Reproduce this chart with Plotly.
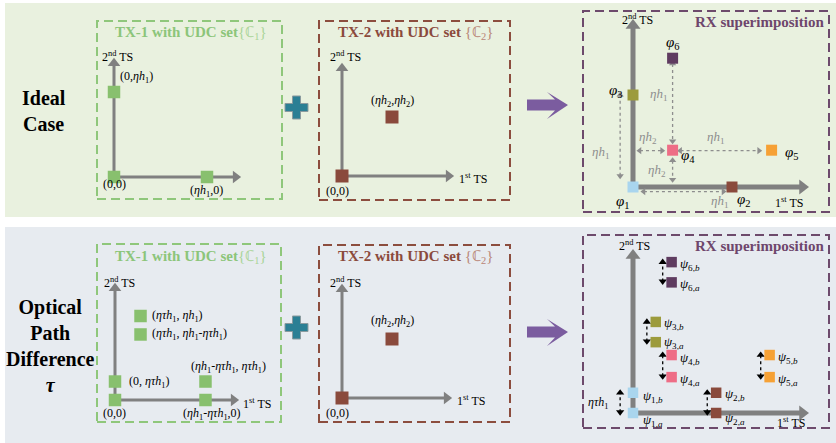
import plotly.graph_objects as go

W, H = 836, 443
SERIF = "Liberation Serif"
AXIS_GRAY = "#808080"
DIM_GRAY = "#8e8e8e"

# ---------------- constellation values (unit = eta*h1) ----------------
ETA_H1 = 1.0
ETA_H2 = 0.4
ETA_TAU_H1 = 0.22

# ideal case: transmitter constellations
tx1_ideal_ts1 = [0.0, ETA_H1, 0.0]
tx1_ideal_ts2 = [0.0, 0.0, ETA_H1]
tx2_ts1 = [0.0, ETA_H2]
tx2_ts2 = [0.0, ETA_H2]

# ideal case: superimposed receiver points phi_1..phi_6
rx_ideal_ts1 = [0.0, 1.0, 0.0, 0.4, 1.4, 0.4]
rx_ideal_ts2 = [0.0, 0.0, 1.0, 0.4, 0.4, 1.4]

# optical path difference: TX-1 constellation
tx1_tau_ts1 = [0.0, 0.0, ETA_TAU_H1, ETA_TAU_H1, ETA_H1 - ETA_TAU_H1, ETA_H1 - ETA_TAU_H1]
tx1_tau_ts2 = [0.0, ETA_TAU_H1, ETA_H1, ETA_H1 - ETA_TAU_H1, ETA_TAU_H1, 0.0]

# optical path difference: receiver pairs psi_{i,a} / psi_{i,b}
rx_tau_ts1 = [0.0, 0.84, 0.23, 0.39, 1.38, 0.39]
rx_tau_ts2_a = [0.0, 0.0, 0.77, 0.39, 0.39, 1.42]
rx_tau_ts2_b = [0.22, 0.22, 0.99, 0.63, 0.63, 1.64]

rx_colors = ["#a9d5ee", "#8a4a3c", "#9c9b3c", "#ee6d86", "#f6a135", "#5f3c60"]
TX1_GREEN = "#88c06e"
TX2_BROWN = "#8a4a3c"

# ---------------- label text ----------------
EH1 = "<i>ηh</i><sub>1</sub>"
EH2 = "<i>ηh</i><sub>2</sub>"
ETH1 = "<i>ητh</i><sub>1</sub>"
TS1 = "1<sup>st</sup> TS"
TS2 = "2<sup>nd</sup> TS"

tx1_ideal_labels = ["(0,0)", f"({EH1},0)", f"(0,{EH1})"]
tx2_labels = ["(0,0)", f"({EH2},{EH2})"]
rx_ideal_labels = [f"<i>φ</i><sub>{i}</sub>" for i in range(1, 7)]
tx1_tau_labels = ["(0,0)", f"(0, {ETH1})", f"({ETH1}, {EH1})",
                  f"({ETH1}, {EH1}-{ETH1})", f"({EH1}-{ETH1}, {ETH1})",
                  f"({EH1}-{ETH1},0)"]

# ---------------- panel geometry (pixels) ----------------
# box: dashed frame, origin: where TS axes meet, scale: px per unit, tip: arrow tips
PANELS = {
    1: dict(box=(97, 21, 282, 199), origin=(114, 177), scale=(93, 85), tip=(242, 57), aw=3),
    2: dict(box=(319, 21, 510, 200), origin=(342, 176), scale=(125, 147.5), tip=(455, 62), aw=3),
    3: dict(box=(583, 11, 829, 212), origin=(633, 187), scale=(99, 92), tip=(810, 18), aw=5),
    4: dict(box=(97, 244, 281, 422), origin=(115, 400), scale=(116, 84), tip=(240, 282), aw=3),
    5: dict(box=(319, 245, 510, 422), origin=(342, 398), scale=(125, 147.5), tip=(453, 283), aw=3),
    6: dict(box=(583, 235, 829, 428), origin=(633, 413), scale=(99, 92), tip=(810, 248), aw=5),
}

fig = go.Figure()
axes_layout = {}
for i, p in PANELS.items():
    x0, y0, x1, y1 = p["box"]
    ox, oy = p["origin"]
    sx, sy = p["scale"]
    sfx = "" if i == 1 else str(i)
    p["xr"], p["yr"] = "x" + sfx, "y" + sfx
    axes_layout["xaxis" + sfx] = dict(domain=[x0 / W, x1 / W], range=[(x0 - ox) / sx, (x1 - ox) / sx],
                                      visible=False, fixedrange=True, anchor="y" + sfx)
    axes_layout["yaxis" + sfx] = dict(domain=[1 - y1 / H, 1 - y0 / H], range=[(oy - y1) / sy, (oy - y0) / sy],
                                      visible=False, fixedrange=True, anchor="x" + sfx)
    p["tipx"] = (p["tip"][0] - ox) / sx
    p["tipy"] = (oy - p["tip"][1]) / sy


def text(pid, s, x, y, size=12, color="black", xanchor="center", xshift=0, yshift=0):
    p = PANELS[pid]
    fig.add_annotation(text=s, x=x, y=y, xref=p["xr"], yref=p["yr"], showarrow=False,
                       xanchor=xanchor, yanchor="middle", xshift=xshift, yshift=yshift,
                       font=dict(family=SERIF, size=size, color=color))


def ptext(s, x, y, size=12, color="black", xanchor="center"):
    fig.add_annotation(text=s, x=x / W, y=1 - y / H, xref="paper", yref="paper", showarrow=False,
                       xanchor=xanchor, yanchor="middle", font=dict(family=SERIF, size=size, color=color))


TRI = {(1, 0): "triangle-right", (-1, 0): "triangle-left", (0, 1): "triangle-up", (0, -1): "triangle-down"}


def heads(pid, tips, r, color):
    """Triangular arrowheads; each tip is (x, y, ux, uy) with an axis-aligned pixel direction."""
    p = PANELS[pid]
    sx, sy = p["scale"]
    back = 1.155 * r
    xs = [x - ux * back / sx for x, y, ux, uy in tips]
    ys = [y - uy * back / sy for x, y, ux, uy in tips]
    syms = [TRI[(ux, uy)] for x, y, ux, uy in tips]
    fig.add_trace(go.Scatter(x=xs, y=ys, mode="markers",
                             marker=dict(symbol=syms, size=2 * r, color=color, line=dict(width=0)),
                             xaxis=p["xr"], yaxis=p["yr"], hoverinfo="skip", cliponaxis=False))


def ts_axes(pid):
    p = PANELS[pid]
    sx, sy = p["scale"]
    w = p["aw"]
    back = 5 if w == 3 else 7
    fig.add_trace(go.Scatter(x=[p["tipx"] - back / sx, 0, 0], y=[0, 0, p["tipy"] - back / sy],
                             mode="lines", line=dict(color=AXIS_GRAY, width=w),
                             xaxis=p["xr"], yaxis=p["yr"], hoverinfo="skip"))
    r = 5.5 if w == 3 else 6.5
    heads(pid, [(p["tipx"], 0, 1, 0), (0, p["tipy"], 0, 1)], r, AXIS_GRAY)


def dim_arrow(pid, x0, y0, x1, y1, color, width=1.3, r=3.2):
    p = PANELS[pid]
    sx, sy = p["scale"]
    ux = (x1 > x0) - (x1 < x0)
    uy = (y1 > y0) - (y1 < y0)
    cut = 4.0
    fig.add_trace(go.Scatter(x=[x0 + ux * cut / sx, x1 - ux * cut / sx],
                             y=[y0 + uy * cut / sy, y1 - uy * cut / sy],
                             mode="lines", line=dict(color=color, width=width, dash="dot"),
                             xaxis=p["xr"], yaxis=p["yr"], hoverinfo="skip"))
    heads(pid, [(x1, y1, ux, uy), (x0, y0, -ux, -uy)], r, color)


def points(pid, xs, ys, colors, size):
    p = PANELS[pid]
    fig.add_trace(go.Scatter(x=xs, y=ys, mode="markers",
                             marker=dict(symbol="square", size=size, color=colors, line=dict(width=0)),
                             xaxis=p["xr"], yaxis=p["yr"], hoverinfo="skip"))


# ---------------- background bands, frames, connectors ----------------
def pp(x, y):
    return f"{x / W:.5f},{1 - y / H:.5f}"


def poly(pts):
    return "M" + "L".join(pp(x, y) for x, y in pts) + "Z"


shapes = [
    dict(type="rect", xref="paper", yref="paper", x0=5 / W, x1=1, y0=1 - 217 / H, y1=1 - 3 / H,
         fillcolor="#e9f1df", line=dict(width=0), layer="below"),
    dict(type="rect", xref="paper", yref="paper", x0=5 / W, x1=1, y0=0, y1=1 - 227 / H,
         fillcolor="#e7ebf0", line=dict(width=0), layer="below"),
]
frame_colors = {1: "#8fc77b", 2: "#8c4d3e", 3: "#6d4a6c", 4: "#8fc77b", 5: "#8c4d3e", 6: "#6d4a6c"}
for i, p in PANELS.items():
    x0, y0, x1, y1 = p["box"]
    shapes.append(dict(type="rect", xref="paper", yref="paper", x0=x0 / W, x1=x1 / W,
                       y0=1 - y1 / H, y1=1 - y0 / H,
                       line=dict(color=frame_colors[i], width=2, dash="9px,5px")))

for cy in (107.5, 327.5):
    cx, a, t = 296.5, 11.5, 4
    cross = [(cx - t, cy - a), (cx + t, cy - a), (cx + t, cy - t), (cx + a, cy - t), (cx + a, cy + t),
             (cx + t, cy + t), (cx + t, cy + a), (cx - t, cy + a), (cx - t, cy + t), (cx - a, cy + t),
             (cx - a, cy - t), (cx - t, cy - t)]
    shapes.append(dict(type="path", xref="paper", yref="paper", path=poly(cross), fillcolor="#2b7f94",
                       line=dict(color="#8a9a9e", width=1)))
for cy in (105, 332):
    arrow = [(527, cy - 5.5), (555, cy - 5.5), (547, cy - 13), (568, cy), (547, cy + 14),
             (555, cy + 5.5), (527, cy + 5.5)]
    shapes.append(dict(type="path", xref="paper", yref="paper", path=poly(arrow),
                       fillcolor="#7b5c9f", line=dict(width=0)))

# ---------------- panels: axes ----------------
for pid in PANELS:
    ts_axes(pid)

# dimension arrows in the ideal receiver constellation
ideal_dims = [
    (-0.13, 0.08, -0.13, 1.04, EH1, -0.32, 0.38),
    (0.03, 0.395, 0.33, 0.395, EH2, 0.15, 0.54),
    (0.40, 0.33, 0.40, 0.04, EH2, 0.24, 0.18),
    (0.40, 1.38, 0.40, 0.46, EH1, 0.26, 1.00),
    (0.44, 0.395, 1.31, 0.395, EH1, 0.84, 0.54),
    (0.07, -0.05, 0.95, -0.05, EH1, 0.88, -0.16),
]
for x0, y0, x1, y1, lab, lx, ly in ideal_dims:
    dim_arrow(3, x0, y0, x1, y1, DIM_GRAY)
    text(3, lab, lx, ly, size=13, color=DIM_GRAY)

# tau shift arrows next to each receiver pair
for i in range(6):
    xa = rx_tau_ts1[i] - (0.13 if i == 0 else 0.09)
    dim_arrow(6, xa, rx_tau_ts2_a[i] - 0.035, xa, rx_tau_ts2_b[i] + 0.045, "black", width=1.3, r=3.6)
text(6, ETH1, -0.35, 0.11, size=12)

# ---------------- constellation points ----------------
points(1, tx1_ideal_ts1, tx1_ideal_ts2, TX1_GREEN, 12.5)
points(2, tx2_ts1, tx2_ts2, TX2_BROWN, 13)
points(3, rx_ideal_ts1, rx_ideal_ts2, rx_colors, 11)
points(4, tx1_tau_ts1, tx1_tau_ts2, TX1_GREEN, 12.5)
points(5, tx2_ts1, tx2_ts2, TX2_BROWN, 13)
points(6, rx_tau_ts1 + rx_tau_ts1, rx_tau_ts2_a + rx_tau_ts2_b, rx_colors + rx_colors, 10.5)

# ---------------- point labels ----------------
for lab, x, y, (dx, dy, anc) in zip(tx1_ideal_labels, tx1_ideal_ts1, tx1_ideal_ts2,
                                    [(0, -7, "center"), (-1, -14, "center"), (4, 15, "left")]):
    text(1, lab, x, y, xanchor=anc, xshift=dx, yshift=dy)
for pid in (2, 5):
    offs = [(-5, -15, "center"), (0, 16 if pid == 2 else 18, "center")]
    for lab, x, y, (dx, dy, anc) in zip(tx2_labels, tx2_ts1, tx2_ts2, offs):
        text(pid, lab, x, y, xanchor=anc, xshift=dx, yshift=dy)
for lab, x, y, (dx, dy) in zip(rx_ideal_labels, rx_ideal_ts1, rx_ideal_ts2,
                               [(-10, -15), (12, -13), (-17, 4), (15, -6), (20, -3), (0, 15)]):
    text(3, lab, x, y, size=15, xshift=dx, yshift=dy)
for lab, x, y, (dx, dy, anc) in zip(tx1_tau_labels, tx1_tau_ts1, tx1_tau_ts2,
                                    [(-1, -13, "center"), (12, 0, "left"), (9, 0, "left"),
                                     (9, 0, "left"), (23, 15, "center"), (7, -14, "center")]):
    text(4, lab, x, y, xanchor=anc, xshift=dx, yshift=dy)
# (b-label shift, a-label shift) in pixels for each psi pair
psi_shift = [((8, -4), (8, -7)), ((7, -2), (7, -5)), ((6, -2), (6, 0)),
             ((6, -3), (6, -2)), ((6, -2), (6, -2)), ((6, -2), (6, -2))]
for i in range(6):
    (bdx, bdy), (adx, ady) = psi_shift[i]
    text(6, f"<i>ψ</i><sub>{i + 1},<i>b</i></sub>", rx_tau_ts1[i], rx_tau_ts2_b[i], size=13,
         xanchor="left", xshift=bdx, yshift=bdy)
    text(6, f"<i>ψ</i><sub>{i + 1},<i>a</i></sub>", rx_tau_ts1[i], rx_tau_ts2_a[i], size=13,
         xanchor="left", xshift=adx, yshift=ady)

# ---------------- axis captions ----------------
cap2 = {1: (118, 57), 2: (345, 57), 3: (637, 20), 4: (119, 282), 5: (345, 282), 6: (634, 246)}
for pid, (x, y) in cap2.items():
    ptext(TS2, x, y, size=12)
cap1 = {2: (457, 178), 3: (773, 202), 4: (241, 403), 5: (455, 400), 6: (775, 422)}
for pid, (x, y) in cap1.items():
    ptext(TS1, x, y, size=12, xanchor="left")

# ---------------- titles ----------------
G_T, G_L = "#8cc57a", "#a9d497"
B_T, B_L = "#8b4a3c", "#b98676"
P_T = "#6e466c"
for y in (33, 257):
    ptext(f"<b>TX-1 with UDC set</b><span style='color:{G_L}'>{{ℂ<sub>1</sub>}}</span>",
          191, y, size=15, color=G_T)
    ptext(f"<b>TX-2 with UDC set</b> <span style='color:{B_L}'>{{ℂ<sub>2</sub>}}</span>",
          415, y, size=15, color=B_T)
ptext("<b>RX superimposition</b>", 826, 22, size=15, color=P_T, xanchor="right")
ptext("<b>RX superimposition</b>", 826, 246, size=15, color=P_T, xanchor="right")

ptext("<b>Ideal<br>Case</b>", 44, 111, size=20)
ptext("<b>Optical<br>Path<br>Difference<br><i>τ</i></b>", 50, 346, size=20)

fig.update_layout(width=W, height=H, margin=dict(l=0, r=0, t=0, b=0),
                  paper_bgcolor="white", plot_bgcolor="rgba(0,0,0,0)",
                  showlegend=False, shapes=shapes, **axes_layout)
fig.write_html("out.html")
